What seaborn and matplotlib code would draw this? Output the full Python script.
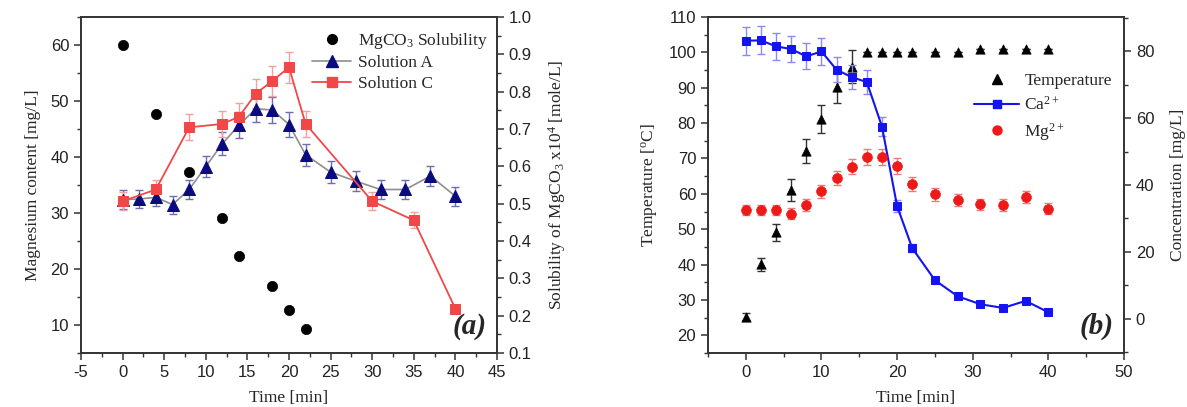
import numpy as np
import pandas as pd
import matplotlib
matplotlib.use("Agg")
import matplotlib.pyplot as plt
from matplotlib.lines import Line2D
from matplotlib.ticker import MultipleLocator, FormatStrFormatter
import seaborn as sns

# ---------------- data: panel (a) ----------------
time_a = [0, 2, 4, 6, 8, 10, 12, 14, 16, 18, 20, 22, 25, 28, 31, 34, 37, 40]
solution_a = [32.4, 32.5, 32.8, 31.5, 34.2, 38.3, 42.4, 45.7, 48.6, 48.4, 45.8, 40.4, 37.3, 35.7, 34.2, 34.2, 36.6, 33.0]
solution_a_err = [1.7, 1.6, 1.6, 1.6, 1.7, 1.9, 2.1, 2.3, 2.4, 2.4, 2.3, 2.0, 1.9, 1.8, 1.7, 1.7, 1.8, 1.7]

time_c = [0, 4, 8, 12, 14, 16, 18, 20, 22, 30, 35, 40]
solution_c = [32.1, 34.2, 45.3, 45.9, 47.2, 51.3, 53.6, 56.0, 45.9, 32.1, 28.7, 12.9]
solution_c_err = [1.6, 1.7, 2.3, 2.3, 2.4, 2.6, 2.7, 2.8, 2.3, 1.6, 1.4, 0.6]

time_sol = [0, 4, 8, 12, 14, 18, 20, 22]
mgco3_solubility = [0.925, 0.739, 0.586, 0.462, 0.360, 0.279, 0.214, 0.163]

# ---------------- data: panel (b) ----------------
time_b = [0, 2, 4, 6, 8, 10, 12, 14, 16, 18, 20, 22, 25, 28, 31, 34, 37, 40]
temperature = [25.2, 40.1, 49.1, 61.1, 72.1, 81.1, 90.1, 96.0, 100, 100, 100, 100, 100, 100, 101, 101, 101, 101]
temperature_err = [1.0, 1.9, 2.5, 3.1, 3.5, 4.0, 4.5, 4.6, 0, 0, 0, 0, 0, 0, 0, 0, 0, 0]
ca = [83.2, 83.3, 81.5, 80.7, 78.5, 80.0, 74.5, 72.3, 70.8, 57.5, 33.7, 21.1, 11.5, 6.7, 4.3, 3.2, 5.3, 1.9]
ca_err = [4.2, 4.2, 4.1, 4.0, 3.9, 4.0, 3.7, 3.6, 3.5, 2.9, 1.7, 1.1, 0.6, 0.3, 0.2, 0.2, 0.3, 0.1]
mg = [32.5, 32.5, 32.5, 31.4, 34.0, 38.1, 42.2, 45.5, 48.5, 48.5, 45.7, 40.3, 37.2, 35.5, 34.2, 34.0, 36.5, 32.9]
mg_err = [1.6, 1.6, 1.6, 1.6, 1.7, 1.9, 2.1, 2.3, 2.4, 2.4, 2.3, 2.0, 1.9, 1.8, 1.7, 1.7, 1.8, 1.6]

# ---------------- style ----------------
sns.set_style("ticks")
plt.rcParams["font.family"] = ["Liberation Sans", "DejaVu Sans"]
plt.rcParams["mathtext.default"] = "regular"
plt.rcParams["axes.unicode_minus"] = False
plt.rcParams["axes.linewidth"] = 1.2
plt.rcParams["axes.edgecolor"] = "#333333"
plt.rcParams["xtick.color"] = "#333333"
plt.rcParams["ytick.color"] = "#333333"
plt.rcParams["xtick.labelcolor"] = "#222222"
plt.rcParams["ytick.labelcolor"] = "#222222"

SERIF = ["Liberation Serif", "DejaVu Serif"]
TICK_FS = 12
LABEL_FS = 12.5
LEG_FS = 12.5

NAVY = "#0b0b80"
GRAYLINE = "#8e8e8e"
NAVY_ERR = "#6f6fae"
CORAL = "#f04848"
CORAL_ERR = "#f3a0a0"
BLUE = "#1414f0"
BLUE_ERR = "#8a8af0"
RED = "#ee1a1a"
RED_ERR = "#f07a7a"

fig = plt.figure(figsize=(11.87, 4.07), dpi=100)
ax_a = fig.add_axes([81 / 1187, 1 - 353 / 407, 416 / 1187, 336 / 407])
ax_b = fig.add_axes([708 / 1187, 1 - 353 / 407, 416 / 1187, 336 / 407])


def style_ticks(ax):
    ax.tick_params(axis="both", which="major", direction="out", length=5, width=1.1, labelsize=TICK_FS)
    ax.tick_params(axis="both", which="minor", direction="out", length=3, width=1.0)


# ---------------- panel (a) ----------------
df_a = pd.DataFrame({"Time": time_a, "Mg": solution_a})
df_c = pd.DataFrame({"Time": time_c, "Mg": solution_c})
df_s = pd.DataFrame({"Time": time_sol, "Sol": mgco3_solubility})

ax_a.errorbar(time_a, solution_a, yerr=solution_a_err, fmt="none", ecolor=NAVY_ERR,
              elinewidth=1.0, capsize=3, capthick=1.0, zorder=2)
ax_a.errorbar(time_c, solution_c, yerr=solution_c_err, fmt="none", ecolor=CORAL_ERR,
              elinewidth=1.0, capsize=3, capthick=1.0, zorder=2)
sns.lineplot(data=df_a, x="Time", y="Mg", ax=ax_a, color=GRAYLINE, lw=1.2, marker="^",
             markersize=8, markerfacecolor=NAVY, markeredgecolor=NAVY, zorder=3)
sns.lineplot(data=df_c, x="Time", y="Mg", ax=ax_a, color=CORAL, lw=1.3, marker="s",
             markersize=6.5, markerfacecolor=CORAL, markeredgecolor=CORAL, zorder=3)

ax_a.set_xlim(-5, 45)
ax_a.set_ylim(5, 65)
ax_a.xaxis.set_major_locator(MultipleLocator(5))
ax_a.xaxis.set_minor_locator(MultipleLocator(2.5))
ax_a.yaxis.set_major_locator(MultipleLocator(10))
ax_a.yaxis.set_minor_locator(MultipleLocator(5))
ax_a.set_yticks([10, 20, 30, 40, 50, 60])
style_ticks(ax_a)
ax_a.set_xlabel("Time [min]", fontfamily=SERIF, fontsize=LABEL_FS, labelpad=7)
ax_a.set_ylabel("Magnesium content [mg/L]", fontfamily=SERIF, fontsize=LABEL_FS, labelpad=7)

ax_a2 = ax_a.twinx()
sns.scatterplot(data=df_s, x="Time", y="Sol", ax=ax_a2, marker="o", s=55, color="black",
                edgecolor="black", linewidth=0.5, zorder=3)
ax_a2.set_ylim(0.1, 1.0)
ax_a2.yaxis.set_major_locator(MultipleLocator(0.1))
ax_a2.yaxis.set_minor_locator(MultipleLocator(0.05))
ax_a2.yaxis.set_major_formatter(FormatStrFormatter("%.1f"))
style_ticks(ax_a2)
ax_a2.set_ylabel("Solubility of MgCO$_3$ x10$^4$ [mole/L]", fontfamily=SERIF,
                 fontsize=LABEL_FS, labelpad=10)
for sp in ax_a2.spines.values():
    sp.set_linewidth(1.2)

handles_a = [
    Line2D([], [], ls="none", marker="o", color="black", markersize=7),
    Line2D([], [], color=GRAYLINE, lw=1.2, marker="^", markersize=8, markerfacecolor=NAVY, markeredgecolor=NAVY),
    Line2D([], [], color=CORAL, lw=1.3, marker="s", markersize=6.5, markerfacecolor=CORAL, markeredgecolor=CORAL),
]
labels_a = ["MgCO$_3$ Solubility", "Solution A", "Solution C"]
ax_a2.legend(handles_a, labels_a, loc="upper right", bbox_to_anchor=(1.01, 1.0), frameon=False,
             prop={"family": SERIF, "size": LEG_FS}, handlelength=2.2, handletextpad=0.4,
             labelspacing=0.25, borderpad=0.3)
ax_a2.text(0.975, 0.04, "(a)", transform=ax_a2.transAxes, ha="right", va="bottom",
           fontfamily=SERIF, fontsize=21, fontweight="bold", fontstyle="italic")

# ---------------- panel (b) ----------------
df_t = pd.DataFrame({"Time": time_b, "Temp": temperature})
df_ca = pd.DataFrame({"Time": time_b, "Conc": ca})
df_mg = pd.DataFrame({"Time": time_b, "Conc": mg})

ax_b.errorbar(time_b, temperature, yerr=temperature_err, fmt="none", ecolor="#333333",
              elinewidth=1.0, capsize=3, capthick=1.0, zorder=2)
sns.scatterplot(data=df_t, x="Time", y="Temp", ax=ax_b, marker="^", s=45, color="black",
                edgecolor="black", linewidth=0.5, zorder=3)
ax_b.set_xlim(-5, 50)
ax_b.set_ylim(15, 110)
ax_b.xaxis.set_major_locator(MultipleLocator(10))
ax_b.xaxis.set_minor_locator(MultipleLocator(5))
ax_b.set_xticks([0, 10, 20, 30, 40, 50])
ax_b.yaxis.set_major_locator(MultipleLocator(10))
ax_b.yaxis.set_minor_locator(MultipleLocator(5))
ax_b.set_yticks(list(range(20, 111, 10)))
style_ticks(ax_b)
ax_b.set_xlabel("Time [min]", fontfamily=SERIF, fontsize=LABEL_FS, labelpad=7)
ax_b.set_ylabel("Temperature [$^{o}$C]", fontfamily=SERIF, fontsize=LABEL_FS, labelpad=7)

ax_b2 = ax_b.twinx()
ax_b2.errorbar(time_b, ca, yerr=ca_err, fmt="none", ecolor=BLUE_ERR,
               elinewidth=1.0, capsize=3, capthick=1.0, zorder=2)
ax_b2.errorbar(time_b, mg, yerr=mg_err, fmt="none", ecolor=RED_ERR,
               elinewidth=1.0, capsize=3, capthick=1.0, zorder=2)
sns.lineplot(data=df_ca, x="Time", y="Conc", ax=ax_b2, color=BLUE, lw=1.5, marker="s",
             markersize=6, markerfacecolor=BLUE, markeredgecolor=BLUE, zorder=3)
sns.scatterplot(data=df_mg, x="Time", y="Conc", ax=ax_b2, marker="o", s=50, color=RED,
                edgecolor=RED, linewidth=0.5, zorder=3)
ax_b2.set_ylim(-10.3, 90.3)
ax_b2.yaxis.set_major_locator(MultipleLocator(20))
ax_b2.yaxis.set_minor_locator(MultipleLocator(10))
ax_b2.set_yticks([0, 20, 40, 60, 80])
style_ticks(ax_b2)
ax_b2.set_ylabel("Concentration [mg/L]", fontfamily=SERIF, fontsize=LABEL_FS, labelpad=11)
for sp in ax_b2.spines.values():
    sp.set_linewidth(1.2)

handles_b = [
    Line2D([], [], ls="none", marker="^", color="black", markersize=6.5),
    Line2D([], [], color=BLUE, lw=1.5, marker="s", markersize=6, markerfacecolor=BLUE, markeredgecolor=BLUE),
    Line2D([], [], ls="none", marker="o", color=RED, markersize=6.5),
]
labels_b = ["Temperature", "Ca$^{2+}$", "Mg$^{2+}$"]
ax_b2.legend(handles_b, labels_b, loc="upper right", bbox_to_anchor=(1.0, 0.87), frameon=False,
             prop={"family": SERIF, "size": LEG_FS}, handlelength=2.6, handletextpad=0.3,
             labelspacing=0.4, borderpad=0.2)
ax_b2.text(0.975, 0.04, "(b)", transform=ax_b2.transAxes, ha="right", va="bottom",
           fontfamily=SERIF, fontsize=21, fontweight="bold", fontstyle="italic")

fig.savefig("out.png", dpi=100)
